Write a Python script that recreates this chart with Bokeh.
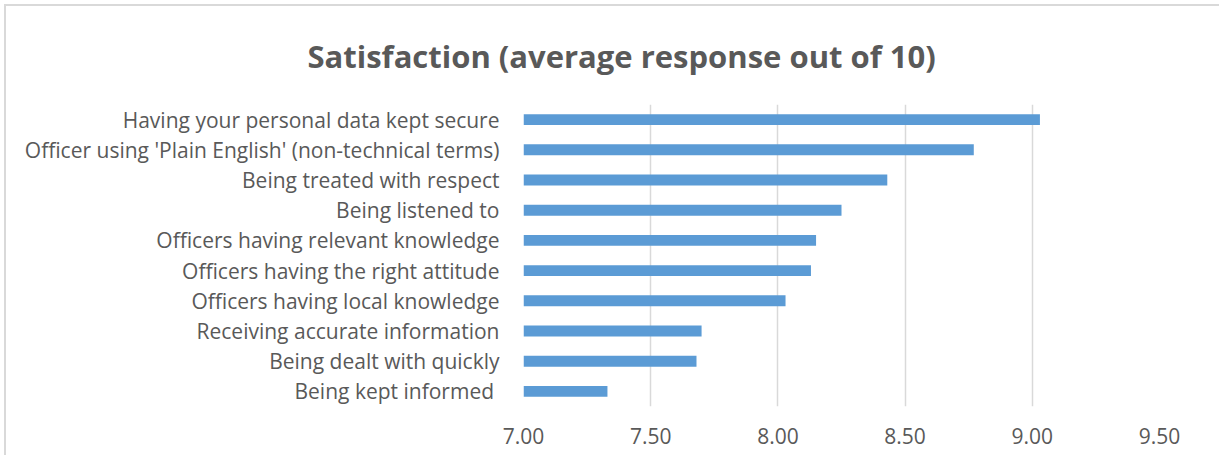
from bokeh.plotting import figure
from bokeh.models import FactorRange, Range1d, FixedTicker, PrintfTickFormatter, Title
from bokeh.embed import file_html
from bokeh.resources import INLINE

categories = [
    "Having your personal data kept secure",
    "Officer using 'Plain English' (non-technical terms)",
    "Being treated with respect",
    "Being listened to",
    "Officers having relevant knowledge",
    "Officers having the right attitude",
    "Officers having local knowledge",
    "Receiving accurate information",
    "Being dealt with quickly",
    "Being kept informed ",
]
values = [9.03, 8.77, 8.43, 8.25, 8.15, 8.13, 8.03, 7.70, 7.68, 7.33]
x_ticks = [7.0, 7.5, 8.0, 8.5, 9.0, 9.5]
title_text = "Satisfaction (average response out of 10)"

TEXT = "#595959"
FONT = "Open Sans"

cats_bottom_up = categories[::-1]
vals_bottom_up = values[::-1]

p = figure(
    width=1215, height=451,
    y_range=FactorRange(factors=cats_bottom_up),
    x_range=Range1d(7.0, 9.5),
    output_backend="svg", toolbar_location=None,
    min_border_left=517, min_border_right=62,
    min_border_top=98, min_border_bottom=51,
)
p.title = None
t = Title(text=title_text, align="left", offset=-216, standoff=51,
          vertical_align="top",
          text_font=FONT, text_font_size="31px", text_font_style="bold",
          text_color=TEXT)
p.add_layout(t, "above")

p.hbar(y=cats_bottom_up, left=7.0, right=vals_bottom_up, height=0.36,
       fill_color="#5b9bd5", line_color=None)

p.outline_line_color = None
p.ygrid.grid_line_color = None
p.xgrid.grid_line_color = "#d9d9d9"
p.xgrid.grid_line_width = 1.5
p.xaxis.ticker = FixedTicker(ticks=x_ticks)
p.xaxis.formatter = PrintfTickFormatter(format="%.2f")

for ax in (p.xaxis[0], p.yaxis[0]):
    ax.axis_line_color = None
    ax.major_tick_line_color = None
    ax.minor_tick_line_color = None
    ax.major_label_text_color = TEXT
    ax.major_label_text_font = FONT
p.xaxis.major_label_text_font_size = "21px"
p.xaxis.major_label_standoff = 15
p.yaxis.major_label_text_font_size = "21px"
p.yaxis.major_label_standoff = 18

p.styles = {"margin-left": "4px", "margin-top": "4px",
            "border-top": "2px solid #d9d9d9", "border-left": "2px solid #d9d9d9"}

open("out.html", "w").write(file_html(p, INLINE))
